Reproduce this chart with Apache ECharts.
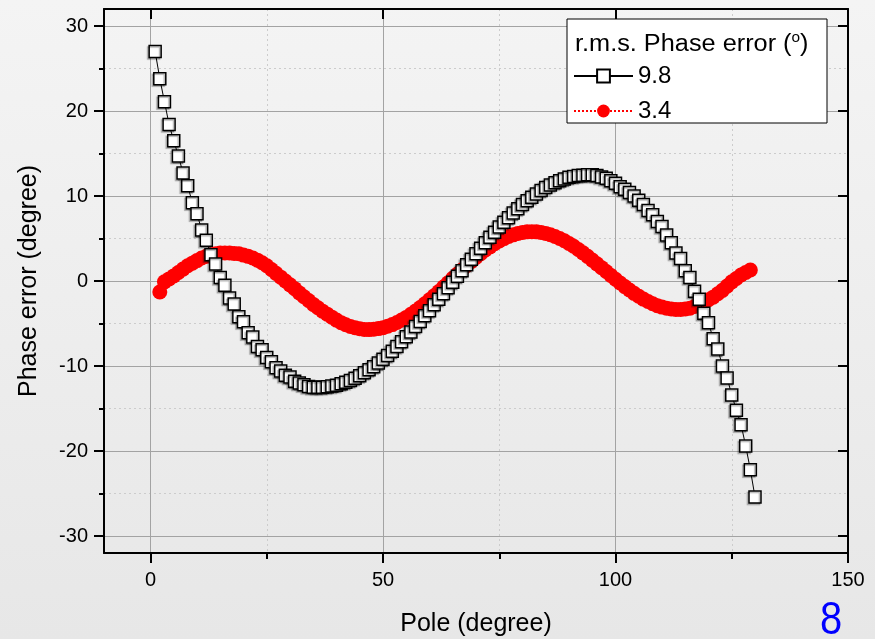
<!DOCTYPE html>
<html>
<head>
<meta charset="utf-8">
<script src="https://cdn.jsdelivr.net/npm/echarts@6/dist/echarts.min.js"></script>
<style>html,body{margin:0;padding:0;background:#eee;}#chart{width:875px;height:639px;}</style>
</head>
<body>
<div id="chart"></div>
<script>
// ---- data ----
const poleSquares = [1,2,3,4,5,6,7,8,9,10,11,12,13,14,15,16,17,18,19,20,21,22,23,24,25,26,27,28,29,30,
  31,32,33,34,35,36,37,38,39,40,41,42,43,44,45,46,47,48,49,50,51,52,53,54,55,56,57,58,59,60,
  61,62,63,64,65,66,67,68,69,70,71,72,73,74,75,76,77,78,79,80,81,82,83,84,85,86,87,88,89,90,
  91,92,93,94,95,96,97,98,99,100,101,102,103,104,105,106,107,108,109,110,111,112,113,114,115,116,117,118,119,120,
  121,122,123,124,125,126,127,128,129,130];
const errorSquares = [27.0,23.8,21.1,18.4,16.5,14.7,12.7,11.2,9.2,7.9,6.0,4.8,3.1,2.0,0.4,-0.5,-2.0,-2.7,-4.2,-4.8,
  -6.1,-6.6,-7.7,-8.1,-9.0,-9.5,-10.2,-10.6,-11.1,-11.3,-11.8,-12.0,-12.2,-12.4,-12.5,-12.5,-12.5,-12.45,-12.35,-12.25,
  -12.1,-11.9,-11.7,-11.45,-11.15,-10.8,-10.45,-10.1,-9.65,-9.2,-8.75,-8.25,-7.7,-7.15,-6.55,-6.0,-5.35,-4.75,-4.1,-3.5,
  -2.8,-2.15,-1.5,-0.8,-0.15,0.55,1.2,1.9,2.55,3.2,3.85,4.5,5.15,5.75,6.35,6.9,7.45,8.0,8.5,9.0,
  9.45,9.85,10.25,10.65,11.0,11.3,11.55,11.8,12.0,12.2,12.3,12.4,12.45,12.5,12.5,12.4,12.25,12.1,11.8,11.5,
  11.1,10.8,10.4,10.0,9.5,9.0,8.3,7.8,7.0,6.4,5.4,4.5,3.3,2.65,1.2,0.4,-1.2,-2.15,-3.8,-4.9,
  -6.8,-8.0,-10.0,-11.4,-13.4,-15.2,-16.9,-19.4,-22.2,-25.4];

const poleCircles = [2,3,4,5,6,7,8,9,10,11,12,13,14,15,16,17,18,19,20,21,22,23,24,25,26,27,28,29,30,
  31,32,33,34,35,36,37,38,39,40,41,42,43,44,45,46,47,48,49,50,51,52,53,54,55,56,57,58,59,60,
  61,62,63,64,65,66,67,68,69,70,71,72,73,74,75,76,77,78,79,80,81,82,83,84,85,86,87,88,89,90,
  91,92,93,94,95,96,97,98,99,100,101,102,103,104,105,106,107,108,109,110,111,112,113,114,115,116,117,118,119,120,
  121,122,123,124,125,126,127,128,129];
const errorCircles = [-1.3,-0.1,0.25,0.6,1.0,1.4,1.8,2.1,2.4,2.7,2.9,3.1,3.2,3.3,3.3,3.3,3.25,3.2,3.05,
  2.9,2.7,2.45,2.15,1.8,1.35,0.9,0.45,0.0,-0.45,-0.9,-1.4,-1.85,-2.3,-2.75,-3.15,-3.55,-3.9,-4.25,-4.6,
  -4.9,-5.15,-5.35,-5.5,-5.62,-5.7,-5.72,-5.68,-5.6,-5.49,-5.33,-5.13,-4.89,-4.6,-4.28,-3.92,-3.54,-3.12,-2.67,-2.21,
  -1.73,-1.23,-0.72,-0.21,0.31,0.82,1.33,1.83,2.31,2.77,3.22,3.64,4.02,4.38,4.7,4.99,5.23,5.43,5.59,5.71,
  5.78,5.8,5.78,5.71,5.6,5.44,5.24,5.0,4.73,4.42,4.08,3.71,3.31,2.9,2.46,2.02,1.57,1.11,0.66,0.21,
  -0.23,-0.66,-1.06,-1.45,-1.8,-2.13,-2.42,-2.68,-2.9,-3.07,-3.21,-3.3,-3.35,-3.35,-3.3,-3.2,-3.0,-2.8,-2.5,-2.2,
  -1.9,-1.5,-1.1,-0.6,-0.1,0.3,0.7,1.0,1.3];

const xTickValues = [0, 50, 100, 150];
const yTickValues = [-30, -20, -10, 0, 10, 20, 30];
const seriesNames = ['9.8', '3.4'];
const legendTitle = 'r.m.s. Phase error (';
const xName = 'Pole (degree)';
const yName = 'Phase error (degree)';
const pageNumber = '8';

// ---- chart ----
const FONT = '"Liberation Sans", Arial, Helvetica, sans-serif';
const chart = echarts.init(document.getElementById('chart'), null, {renderer: 'canvas'});

const frameLine = {show: true, onZero: false, lineStyle: {color: '#000', width: 2}};
const tickStyle = {color: '#000', width: 2};

const option = {
  animation: false,
  backgroundColor: {type: 'linear', x: 0, y: 0, x2: 0, y2: 1,
    colorStops: [{offset: 0, color: '#f4f4f4'}, {offset: 1, color: '#e7e7e7'}]},
  grid: {left: 104, right: 27, top: 9, bottom: 86, containLabel: false, outerBoundsMode: 'none'},
  xAxis: [
    {
      type: 'value', min: -10, max: 150, splitNumber: 3, position: 'bottom',
      axisLine: frameLine,
      axisTick: {show: true, inside: false, length: 10, lineStyle: tickStyle, customValues: xTickValues},
      minorTick: {show: true, splitNumber: 2, length: 6, lineStyle: tickStyle},
      axisLabel: {customValues: xTickValues, fontSize: 20, color: '#000', margin: 17, fontFamily: FONT},
      splitLine: {show: true, lineStyle: {color: '#a3a3a3', width: 1}},
      minorSplitLine: {show: true, lineStyle: {color: '#cccccc', width: 1, type: [2, 3]}},
      name: xName, nameLocation: 'middle', nameGap: 59,
      nameTextStyle: {fontSize: 25, color: '#000', fontFamily: FONT}
    },
    {
      type: 'value', min: -10, max: 150, splitNumber: 3, position: 'top',
      axisLine: frameLine,
      axisTick: {show: true, inside: true, length: 10, lineStyle: tickStyle, customValues: xTickValues},
      axisLabel: {show: false},
      splitLine: {show: false}
    }
  ],
  yAxis: [
    {
      type: 'value', min: -32, max: 32, splitNumber: 6, position: 'left',
      axisLine: frameLine,
      axisTick: {show: true, inside: false, length: 10, lineStyle: tickStyle, customValues: yTickValues},
      minorTick: {show: true, splitNumber: 2, length: 5, lineStyle: tickStyle},
      axisLabel: {customValues: yTickValues, fontSize: 20, color: '#000', margin: 16, fontFamily: FONT},
      splitLine: {show: true, lineStyle: {color: '#a3a3a3', width: 1}},
      minorSplitLine: {show: true, lineStyle: {color: '#cccccc', width: 1, type: [2, 3]}},
      name: yName, nameLocation: 'middle', nameGap: 62,
      nameTextStyle: {fontSize: 25, color: '#000', fontFamily: FONT}
    },
    {
      type: 'value', min: -32, max: 32, splitNumber: 6, position: 'right',
      axisLine: frameLine,
      axisTick: {show: true, inside: true, length: 10, lineStyle: tickStyle, customValues: yTickValues},
      axisLabel: {show: false},
      splitLine: {show: false}
    }
  ],
  legend: {
    data: seriesNames, orient: 'vertical', left: 573, top: 64, padding: 0,
    itemWidth: 59, itemHeight: 16, itemGap: 11, selectedMode: false, z: 20,
    textStyle: {fontSize: 24, color: '#000', fontFamily: FONT}
  },
  graphic: [
    {type: 'rect', z: 10, shape: {x: 567, y: 19, width: 260, height: 104},
      style: {fill: '#ffffff', stroke: '#000', lineWidth: 1}},
    {type: 'text', z: 11, x: 575, y: 45, scaleX: 1.1,
      style: {text: legendTitle + '{sup|o})', fill: '#000', fontSize: 23, fontFamily: FONT,
        verticalAlign: 'middle',
        rich: {sup: {fontSize: 14, fontFamily: FONT, fill: '#000', verticalAlign: 'top', lineHeight: 28}}}},
    {type: 'text', z: 11, x: 820, y: 598, scaleX: 0.85,
      style: {text: pageNumber, fill: '#0000ff', fontSize: 47, fontFamily: FONT}}
  ],
  series: [
    {
      name: seriesNames[1], type: 'line', xAxisIndex: 0, yAxisIndex: 0, z: 2,
      data: poleCircles.map((x, i) => [x, errorCircles[i]]),
      symbol: 'circle', symbolSize: 15, showAllSymbol: true,
      itemStyle: {color: '#ff0000'},
      lineStyle: {color: '#ff0000', width: 1, type: 'dotted'},
      emphasis: {disabled: true}
    },
    {
      name: seriesNames[0], type: 'line', xAxisIndex: 0, yAxisIndex: 0, z: 3,
      data: poleSquares.map((x, i) => [x, errorSquares[i]]),
      symbol: 'rect', symbolSize: 12, showAllSymbol: true,
      itemStyle: {color: '#ffffff', borderColor: '#000', borderWidth: 1.5,
        shadowColor: 'rgba(0,0,0,0.3)', shadowBlur: 1, shadowOffsetX: -1.5, shadowOffsetY: 1.5},
      lineStyle: {color: '#000', width: 1},
      emphasis: {disabled: true}
    }
  ]
};
chart.setOption(option);
</script>
</body>
</html>
